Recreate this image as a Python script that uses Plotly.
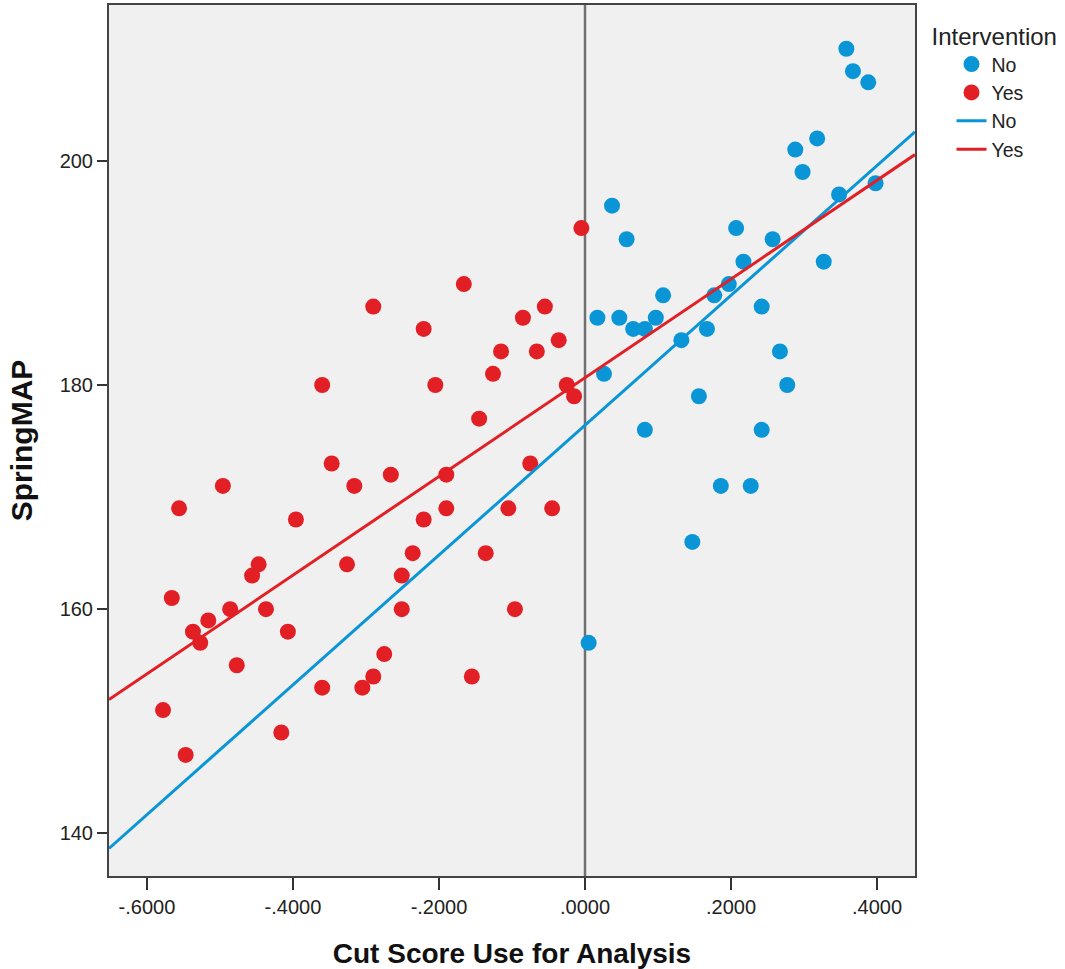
import numpy as np
import plotly.graph_objects as go

# Intervention = Yes (red)
yes_x = [-0.578, -0.547, -0.566, -0.556, -0.537, -0.527, -0.516, -0.496, -0.486, -0.477,
         -0.456, -0.447, -0.437, -0.416, -0.407, -0.396, -0.360, -0.360, -0.347, -0.326,
         -0.316, -0.305, -0.290, -0.290, -0.275, -0.266, -0.251, -0.251, -0.236, -0.221,
         -0.221, -0.205, -0.190, -0.190, -0.166, -0.155, -0.145, -0.136, -0.126, -0.115,
         -0.105, -0.096, -0.085, -0.075, -0.066, -0.055, -0.045, -0.036, -0.025, -0.015,
         -0.005]
yes_y = [151, 147, 161, 169, 158, 157, 159, 171, 160, 155,
         163, 164, 160, 149, 158, 168, 180, 153, 173, 164,
         171, 153, 187, 154, 156, 172, 163, 160, 165, 168,
         185, 180, 172, 169, 189, 154, 177, 165, 181, 183,
         169, 160, 186, 173, 183, 187, 169, 184, 180, 179,
         194]

# Intervention = No (blue)
no_x = [0.358, 0.367, 0.388, 0.318, 0.288, 0.298, 0.348, 0.398, 0.037, 0.057,
        0.207, 0.257, 0.217, 0.327, 0.197, 0.177, 0.107, 0.017, 0.047, 0.097,
        0.066, 0.082, 0.242, 0.167, 0.132, 0.267, 0.026, 0.277, 0.156, 0.082,
        0.242, 0.186, 0.227, 0.147, 0.005]
no_y = [210, 208, 207, 202, 201, 199, 197, 198, 196, 193,
        194, 193, 191, 191, 189, 188, 188, 186, 186, 186,
        185, 185, 187, 185, 184, 183, 181, 180, 179, 176,
        176, 171, 171, 166, 157]

x_range = [-0.652, 0.452]
y_range = [136.2, 213.9]
x_tickvals = [-0.6, -0.4, -0.2, 0.0, 0.2, 0.4]
x_ticktext = ["-.6000", "-.4000", "-.2000", ".0000", ".2000", ".4000"]
y_tickvals = [140, 160, 180, 200]
ref_x = 0.0

blue = "#0a96d6"
red = "#e31f26"

fig = go.Figure()
# data markers (legend shown via larger legend-only entries)
fig.add_trace(go.Scatter(x=no_x, y=no_y, mode="markers", name="No", showlegend=False,
                         marker=dict(color=blue, size=16, line=dict(width=0))))
fig.add_trace(go.Scatter(x=yes_x, y=yes_y, mode="markers", name="Yes", showlegend=False,
                         marker=dict(color=red, size=16, line=dict(width=0))))
fig.add_trace(go.Scatter(x=[None], y=[None], mode="markers", name="No",
                         marker=dict(color=blue, size=21, line=dict(width=0))))
fig.add_trace(go.Scatter(x=[None], y=[None], mode="markers", name="Yes",
                         marker=dict(color=red, size=21, line=dict(width=0))))

fx = np.array(x_range)
b_no = np.polyfit(no_x, no_y, 1)
b_yes = np.polyfit(yes_x, yes_y, 1)
fig.add_trace(go.Scatter(x=fx, y=np.polyval(b_no, fx), mode="lines", name="No",
                         line=dict(color=blue, width=3)))
fig.add_trace(go.Scatter(x=fx, y=np.polyval(b_yes, fx), mode="lines", name="Yes",
                         line=dict(color=red, width=3)))

fig.add_vline(x=ref_x, line=dict(color="#707070", width=2.5), layer="below")

axis_font = dict(family="Liberation Sans, Arial, sans-serif", size=20, color="#222")
fig.update_layout(
    width=1065, height=969,
    margin=dict(l=109, r=150, t=5, b=93),
    paper_bgcolor="white",
    plot_bgcolor="#f0f0f0",
    font=dict(family="Liberation Sans, Arial, sans-serif", color="#222"),
    showlegend=True,
    legend=dict(
        x=1.018, y=0.99, xanchor="left", yanchor="top",
        title=dict(text="Intervention", font=dict(size=24, color="#222")),
        font=dict(size=19.5, color="#222"),
        itemsizing="trace",
        indentation=22,
        tracegroupgap=0,
        bgcolor="rgba(0,0,0,0)",
    ),
    xaxis=dict(
        range=x_range, tickvals=x_tickvals, ticktext=x_ticktext,
        showgrid=False, zeroline=False, automargin=False,
        showline=True, mirror=True, linecolor="#444", linewidth=2,
        ticks="outside", ticklen=12, tickwidth=2, tickcolor="#333",
        tickfont=axis_font,
        title=dict(text="<b>Cut Score Use for Analysis</b>",
                   font=dict(size=28, color="#111"), standoff=28),
    ),
    yaxis=dict(
        range=y_range, tickvals=y_tickvals,
        showgrid=False, zeroline=False, automargin=False,
        showline=True, mirror=True, linecolor="#444", linewidth=2,
        ticks="outside", ticklen=10, tickwidth=2, tickcolor="#333",
        tickfont=axis_font,
        title=dict(text="<b>SpringMAP</b>",
                   font=dict(size=30, color="#111"), standoff=18),
    ),
)

fig.write_html("out.html")
